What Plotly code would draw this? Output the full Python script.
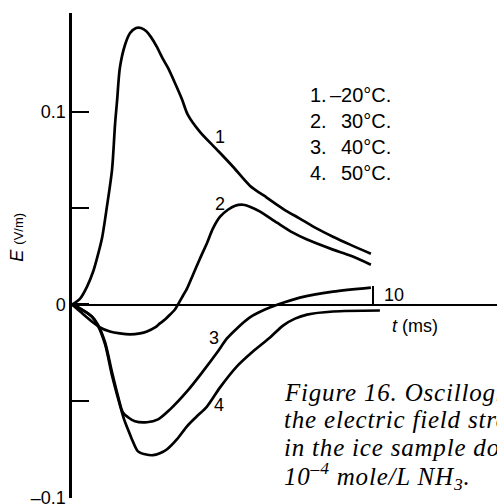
import plotly.graph_objects as go

# ---- data ----
t1 = [0, 0.27, 0.50, 0.70, 0.83, 1.00, 1.16, 1.33, 1.43, 1.50, 1.59, 1.76, 1.93, 2.13, 2.29, 2.46,
      2.62, 2.82, 3.02, 3.19, 3.42, 3.65, 3.85, 4.25, 4.82, 5.35, 5.91, 6.48, 7.01, 7.57, 8.14,
      8.67, 9.24, 9.93]
e1 = [0, 0.0031, 0.0093, 0.0170, 0.0240, 0.0347, 0.0508, 0.0699, 0.0935, 0.1062, 0.1228, 0.1347,
      0.1409, 0.1435, 0.1435, 0.1420, 0.1389, 0.1337, 0.1275, 0.1228, 0.1150, 0.1067, 0.0984,
      0.0896, 0.0803, 0.0715, 0.0617, 0.0554, 0.0497, 0.0446, 0.0394, 0.0352, 0.0311, 0.0264]

t2 = [0, 0.27, 0.50, 0.70, 0.93, 1.26, 1.59, 1.93, 2.26, 2.49, 2.76, 2.92, 3.09, 3.26, 3.42, 3.52,
      3.69, 3.82, 4.02, 4.25, 4.49, 4.68, 4.92, 5.18, 5.42, 5.68, 5.91, 6.25, 6.81, 7.34, 7.81,
      8.67, 9.24, 9.93]
e2 = [0, -0.0036, -0.0067, -0.0093, -0.0119, -0.0140, -0.0150, -0.0155, -0.0150, -0.0140, -0.0119,
      -0.0098, -0.0078, -0.0052, -0.0026, 0.0, 0.0047, 0.0083, 0.0155, 0.0238, 0.0321, 0.0394,
      0.0456, 0.0492, 0.0513, 0.0518, 0.0508, 0.0482, 0.0425, 0.0373, 0.0337, 0.0285, 0.0254,
      0.0207]

t3 = [0, 0.33, 0.66, 0.86, 1.10, 1.33, 1.53, 1.69, 1.86, 2.09, 2.49, 2.86, 3.26, 3.82, 4.35, 4.82,
      5.15, 5.48, 5.91, 6.41, 6.84, 7.57, 8.67, 9.93]
e3 = [0, -0.0026, -0.0062, -0.0104, -0.0197, -0.0352, -0.0477, -0.0560, -0.0585, -0.0606, -0.0611,
      -0.0596, -0.0544, -0.0451, -0.0347, -0.0249, -0.0176, -0.0124, -0.0067, -0.0026, 0.0,
      0.0036, 0.0067, 0.0088]

t4 = [0, 0.33, 0.66, 0.86, 1.10, 1.33, 1.53, 1.73, 1.86, 1.99, 2.19, 2.43, 2.69, 2.92, 3.16, 3.49,
      3.82, 4.15, 4.49, 4.92, 5.48, 6.01, 6.58, 7.01, 7.41, 7.81, 8.67, 10.23]
e4 = [0, -0.0026, -0.0062, -0.0109, -0.0207, -0.0368, -0.0487, -0.0596, -0.0648, -0.0699, -0.0762,
      -0.0777, -0.0782, -0.0772, -0.0751, -0.0699, -0.0632, -0.0580, -0.0528, -0.0430, -0.0321,
      -0.0244, -0.0171, -0.0109, -0.0073, -0.0052, -0.0036, -0.0031]

curve_labels = ["1", "2", "3", "4"]
temps = ["–20°C.", "30°C.", "40°C.", "50°C."]
ytick_vals = [-0.1, 0, 0.1]
ytick_text = ["–0.1", "0", "0.1"]
ytick_minor = [-0.05, 0.05]
xtick_vals = [10]
xtick_text = ["10"]
caption = ["Figure 16. Oscillograms of",
           "the electric field strength",
           "in the ice sample doped with",
           "10<sup>–4</sup> mole/L NH<sub>3</sub>."]

# ---- figure ----
Y0, Y1 = -0.1004, 0.1513
X0, X1 = 0, 14.12
SANS = "Liberation Sans, Arial, sans-serif"
SERIF = "Liberation Serif, Times New Roman, serif"

fig = go.Figure()
for t, e in [(t1, e1), (t2, e2), (t3, e3), (t4, e4)]:
    fig.add_trace(go.Scatter(x=t, y=e, mode="lines",
                             line=dict(color="black", width=2.7, shape="spline", smoothing=0.8),
                             hoverinfo="skip", showlegend=False))

ann = []
# curve number labels
lab_pos = [(4.92, 0.0870), (4.92, 0.0523), (4.72, -0.0176), (4.88, -0.0523)]
for lab, (x, y) in zip(curve_labels, lab_pos):
    ann.append(dict(x=x, y=y, text=lab, showarrow=False, xanchor="center", yanchor="middle",
                    font=dict(family=SANS, size=18, color="black")))
# legend block
leg_y = [0.1090, 0.0955, 0.0820, 0.0684]
for lab, tmp, y in zip(curve_labels, temps, leg_y):
    ann.append(dict(x=7.84, y=y, text=lab + ".", showarrow=False, xanchor="left", yanchor="middle",
                    font=dict(family=SANS, size=20, color="black")))
    ann.append(dict(x=10.66, y=y, text=tmp, showarrow=False, xanchor="right", yanchor="middle",
                    font=dict(family=SANS, size=20, color="black")))
# x tick label and axis title
ann.append(dict(x=10.3, y=0.0052, text=xtick_text[0], showarrow=False, xanchor="left",
                yanchor="middle", font=dict(family=SANS, size=18, color="black")))
ann.append(dict(x=11.40, y=-0.0109, text="<i>t</i> (ms)", showarrow=False, xanchor="center",
                yanchor="middle", font=dict(family=SANS, size=18, color="black")))
# y axis title
ann.append(dict(xref="paper", x=-0.1294, y=0.0347,
                text="<i>E</i> <span style='font-size:13px'>(V/m)</span>",
                textangle=-90, showarrow=False, xanchor="center", yanchor="middle",
                font=dict(family=SANS, size=18, color="black")))
# caption
cap_y = [-0.0454, -0.0599, -0.0744, -0.0889]
for line, y in zip(caption, cap_y):
    ann.append(dict(x=6.98, y=y, text="<i><span style='letter-spacing:0.8px'>" + line + "</span></i>",
                    showarrow=False, xanchor="left", yanchor="middle", align="left",
                    font=dict(family=SERIF, size=25, color="black")))

fig.update_layout(
    width=497, height=504,
    margin=dict(l=72, r=0, t=13, b=6, pad=0),
    paper_bgcolor="white", plot_bgcolor="white",
    showlegend=False,
    annotations=ann,
    xaxis=dict(range=[X0, X1], anchor="free", position=(0 - Y0) / (Y1 - Y0),
               showline=True, linecolor="black", linewidth=2.3,
               ticks="inside", ticklen=18, tickwidth=2.3, tickcolor="black",
               tickvals=xtick_vals, showticklabels=False,
               showgrid=False, zeroline=False, automargin=False, fixedrange=True),
    yaxis=dict(range=[Y0, Y1], showline=True, linecolor="black", linewidth=2.6,
               ticks="inside", ticklen=17, tickwidth=2.6, tickcolor="black",
               tickvals=ytick_vals, ticktext=ytick_text, ticklabeloverflow="allow",
               minor=dict(tickvals=ytick_minor, ticks="inside", ticklen=17, tickwidth=2.6,
                          tickcolor="black", showgrid=False),
               tickfont=dict(family=SANS, size=18, color="black"),
               showgrid=False, zeroline=False, automargin=False, fixedrange=True),
)

fig.write_html("out.html", config={"displayModeBar": False, "staticPlot": True},
               post_script="document.body.style.margin='0';")
